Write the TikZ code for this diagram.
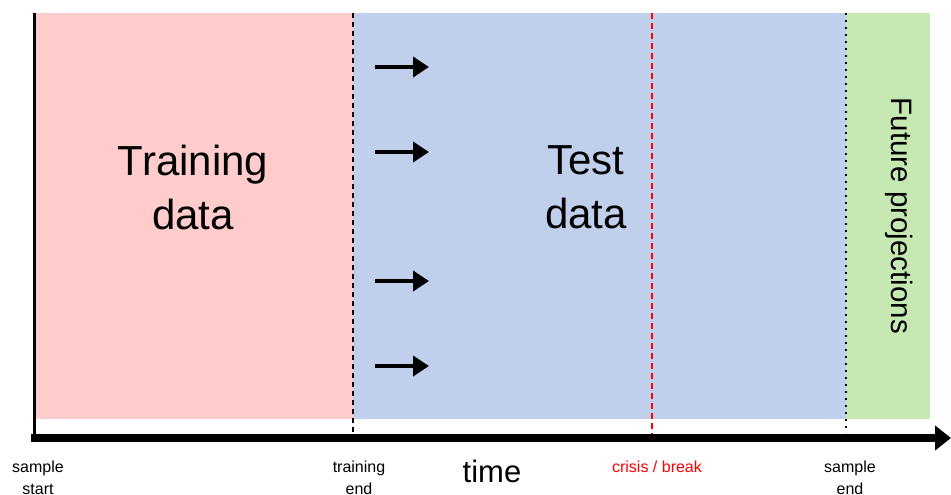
\documentclass[tikz,border=0pt]{standalone}
\usepackage{fontspec}
\setmainfont{Liberation Sans}
\usetikzlibrary{arrows.meta}
\definecolor{trainred}{RGB}{255,204,204}
\definecolor{testblue}{RGB}{192,208,236}
\definecolor{futgreen}{RGB}{198,232,178}
\definecolor{crisisred}{RGB}{255,0,0}
\tikzset{
  bigtext/.style={font=\fontsize{42}{54}\selectfont,align=center},
  lbl/.style={font=\fontsize{16}{22}\selectfont,align=center,inner sep=0pt},
  shiftarrow/.style={line width=4pt,-{Triangle[length=16pt,width=20pt]}},
}
\begin{document}
\begin{tikzpicture}[x=1pt,y=-1pt]
\useasboundingbox (0,0) rectangle (951,495);
\fill[white] (0,0) rectangle (951,495);
% regions
\fill[trainred] (34,13) rectangle (353,419);
\fill[testblue] (353,13) rectangle (846,419);
\fill[futgreen] (846,13) rectangle (930,419);
% coordinates for boundaries
\coordinate (st) at (34,13);
\coordinate (sb) at (34,438);
\coordinate (tt) at (353,13);
\coordinate (tb) at (353,436);
\coordinate (ct) at (652,13);
\coordinate (cb) at (652,436);
\coordinate (et) at (846,13);
\coordinate (eb) at (846,433);
\coordinate (axL) at (31,438);
\coordinate (axR) at (951,438);
\draw[line width=3pt] (st) -- (sb);
\draw[line width=1.6pt,dash pattern=on 5pt off 4pt] (tt) -- (tb);
\draw[line width=1.6pt,crisisred,dash pattern=on 6pt off 4pt] (ct) -- (cb);
\draw[line width=1.8pt,dash pattern=on 1.8pt off 5.2pt] (et) -- (eb);
\draw[line width=8pt,-{Triangle[length=16pt,width=24pt]}] (axL) -- (axR);
% shift arrows
\foreach \y/\n in {67/a,152/b,281/c,366/d}{
  \coordinate (\n1) at (375,\y);
  \coordinate (\n2) at (429,\y);
  \draw[shiftarrow] (\n1) -- (\n2);
}
% texts
\node[bigtext] (train) at (193,187) {Training\\data};
\node[bigtext] (test) at (586,187) {Test\\data};
\node[font=\fontsize{29.5}{34}\selectfont,rotate=-90] (fut) at (899,216) {Future projections};
\node[lbl,anchor=north] (ss) at (38,461) {sample\\start};
\node[lbl,anchor=north] (te) at (359,461) {training\\end};
\node[font=\fontsize{31}{36}\selectfont,inner sep=0pt] (time) at (492,471) {time};
\node[lbl,anchor=north,text=crisisred] (cr) at (657,461) {crisis / break};
\node[lbl,anchor=north] (se) at (850,461) {sample\\end};
\end{tikzpicture}
\end{document}
